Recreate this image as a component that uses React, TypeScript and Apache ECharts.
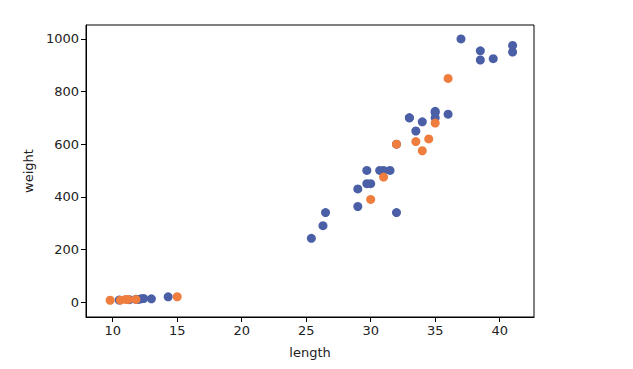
import React, { useEffect, useRef } from "react";
import * as echarts from "echarts";

const trainLength = [25.4, 26.3, 26.5, 29.0, 29.0, 29.7, 29.7, 30.0, 30.7, 31.0, 31.5, 32.0, 32.0, 33.0, 33.0, 33.5, 34.0, 35.0, 35.0, 35.0, 36.0, 37.0, 38.5, 38.5, 39.5, 41.0, 41.0, 10.5, 11.3, 11.8, 12.0, 12.2, 12.4, 13.0, 14.3];
const trainWeight = [242, 290, 340, 363, 430, 450, 500, 450, 500, 500, 500, 340, 600, 700, 700, 650, 685, 700, 725, 720, 714, 1000, 920, 955, 925, 975, 950, 7.5, 8.7, 10.0, 9.8, 12.2, 13.4, 12.2, 19.7];
const testLength = [10.6, 9.8, 35.0, 11.2, 31.0, 34.5, 33.5, 15.0, 34.0, 30.0, 11.8, 32.0, 36.0, 11.0];
const testWeight = [7.0, 6.7, 680, 9.8, 475, 620, 610, 19.9, 575, 390, 9.9, 600, 850, 9.7];
const xTicks = [10, 15, 20, 25, 30, 35, 40];
const yTicks = [0, 200, 400, 600, 800, 1000];

const font = "DejaVu Sans";

export default function App() {
  const ref = useRef<HTMLDivElement>(null);
  useEffect(() => {
    if (!ref.current) return;
    const chart = echarts.init(ref.current, null, { renderer: "svg" });
    const axisCommon = {
      axisLine: { show: true, onZero: false, lineStyle: { color: "#000", width: 1 } },
      axisTick: { show: true, inside: false, length: 5, lineStyle: { color: "#000", width: 1 } },
      splitLine: { show: false },
      nameTextStyle: { fontFamily: font, fontSize: 13, color: "#222" },
    };
    const label = {
      fontFamily: font,
      fontSize: 13,
      color: "#222",
      margin: 7,
      formatter: (v: number) => String(v),
    };
    chart.setOption({
      animation: false,
      backgroundColor: "#fff",
      grid: {
        left: 86,
        top: 25,
        right: 99,
        bottom: 52,
        show: true,
        borderColor: "#000",
        borderWidth: 1,
        containLabel: false,
      },
      xAxis: {
        type: "value",
        min: 7.93,
        max: 42.66,
        name: "length",
        nameLocation: "middle",
        nameGap: 29,
        ...axisCommon,
        axisTick: { ...axisCommon.axisTick, customValues: xTicks },
        axisLabel: { ...label, customValues: xTicks },
      },
      yAxis: {
        type: "value",
        min: -57,
        max: 1053,
        name: "weight",
        nameLocation: "middle",
        nameGap: 49,
        ...axisCommon,
        axisTick: { ...axisCommon.axisTick, customValues: yTicks },
        axisLabel: { ...label, customValues: yTicks },
      },
      series: [
        {
          type: "scatter",
          symbolSize: 9,
          itemStyle: { color: "#4a5fa6", opacity: 1 },
          data: trainLength.map((x, i) => [x, trainWeight[i]]),
        },
        {
          type: "scatter",
          symbolSize: 9,
          itemStyle: { color: "#ef7d3d", opacity: 1 },
          data: testLength.map((x, i) => [x, testWeight[i]]),
        },
      ],
    });
    return () => chart.dispose();
  }, []);
  return (
    <div
      ref={ref}
      style={{ position: "fixed", left: 0, top: 0, width: 633, height: 369, background: "#fff" }}
    />
  );
}
